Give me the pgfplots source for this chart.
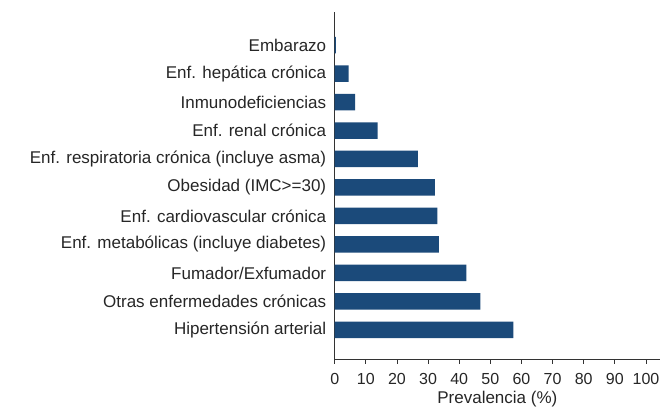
\documentclass[border=0pt]{standalone}
\usepackage{fontspec}
\setmainfont{Liberation Sans}
\usepackage{pgfplots}
\pgfplotsset{compat=1.18}
\definecolor{barblue}{HTML}{1B4A7A}
\begin{document}
\begin{tikzpicture}[x=1pt,y=1pt]
\useasboundingbox (0,0) rectangle (664,419);
\begin{axis}[
  at={(334.7pt,60pt)}, anchor=south west,
  scale only axis, width=325.3pt, height=347pt,
  xbar, bar width=16.5pt,
  xmin=0, xmax=104.5, ymin=-1.02, ymax=11.16,
  axis lines*=left,
  axis line style={black!80, line width=0.8pt},
  xtick={0,10,...,100},
  ytick={0,...,10},
  yticklabels={Hipertensión arterial, Otras enfermedades crónicas, Fumador/Exfumador, Enf. metabólicas (incluye diabetes), Enf. cardiovascular crónica, Obesidad (IMC>=30), Enf. respiratoria crónica (incluye asma), Enf. renal crónica, Inmunodeficiencias, Enf. hepática crónica, Embarazo},
  tick align=outside,
  major tick length=5pt,
  ytick style={draw=none},
  xtick style={black!80, line width=0.8pt},
  /pgf/number format/assume math mode=true,
  x tick label style={font=\fontsize{16}{18}\selectfont, text=black!85, yshift=-6pt},
  y tick label style={font=\fontsize{17}{20}\selectfont, text=black!85},
  xlabel={Prevalencia (\%)},
  xlabel style={font=\fontsize{17}{20}\selectfont, text=black!85, yshift=1pt},
]
\addplot[fill=barblue, draw=none] coordinates {
  (57.4,0) (46.8,1) (42.3,2) (33.5,3) (33.0,4) (32.2,5) (26.7,6) (13.8,7) (6.6,8) (4.5,9) (0.4,10)
};
\end{axis}
\end{tikzpicture}
\end{document}
